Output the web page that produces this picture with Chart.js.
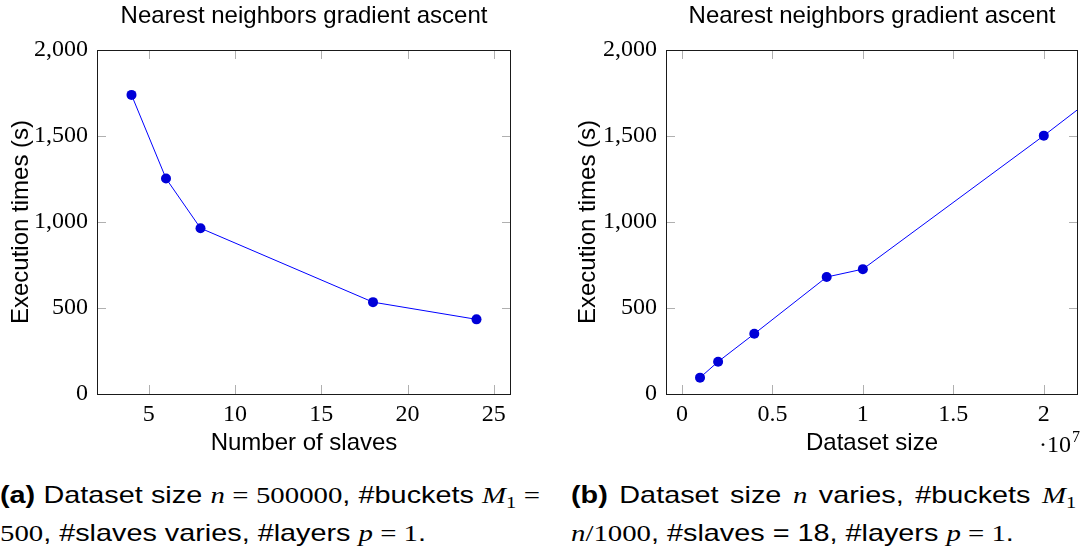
<!DOCTYPE html>
<html>
<head>
<meta charset="utf-8">
<title>Nearest neighbors gradient ascent</title>
<script src="https://cdn.jsdelivr.net/npm/chart.js@4.4.0/dist/chart.umd.min.js"></script>
<style>
  html, body { margin: 0; padding: 0; background: #fff; }
  body { width: 1083px; height: 550px; position: relative; overflow: hidden; }
  canvas { position: absolute; top: 0; }
  #chart-slaves { left: 0; }
  #chart-size { left: 541px; }
  .caption {
    position: absolute;
    top: 476px;
    font: 24px "Liberation Sans", Arial, sans-serif;
    line-height: 37px;
    color: #000;
    transform: scaleX(1.2);
    transform-origin: 0 0;
  }
  .caption .first { text-align: justify; text-align-last: justify; }
  .caption b { font-weight: bold; }
  .m { font-family: "Liberation Serif", "Times New Roman", serif; }
  .m i { font-style: italic; }
  .m sub { font-size: 17px; line-height: 0; vertical-align: baseline; position: relative; top: 5px; font-style: normal; }
</style>
</head>
<body>
<canvas id="chart-slaves" width="541" height="470"></canvas>
<canvas id="chart-size" width="542" height="470"></canvas>

<div class="caption" style="left: 0; width: 450px;">
  <div class="first"><b>(a)</b> Dataset size <span class="m"><i>n</i> = 500000</span>, #buckets <span class="m"><i>M</i><sub>1</sub> =</span></div>
  <div><span class="m">500</span>, #slaves varies, #layers <span class="m"><i>p</i> = 1</span>.</div>
</div>
<div class="caption" style="left: 571px; width: 421px;">
  <div class="first"><b>(b)</b> Dataset size <span class="m"><i>n</i></span> varies, #buckets <span class="m"><i>M</i><sub>1</sub></span></div>
  <div><span class="m"><i>n</i>/1000</span>, #slaves = 18, #layers <span class="m"><i>p</i> = 1</span>.</div>
</div>

<script>
// runs with a fixed dataset size (n = 500000)
const slaveCounts = [4, 6, 8, 18, 24];
const slaveTimes = [1739, 1253, 964, 534, 434];

// runs with 18 slaves; the 4e7 run sits past the right edge of the axis
const datasetSizes = [1e6, 2e6, 4e6, 8e6, 1e7, 2e7, 4e7];
const datasetTimes = [95, 188, 350, 680, 726, 1502, 3120];

const timeTicks = [0, 500, 1000, 1500, 2000];
const slaveTicks = [5, 10, 15, 20, 25];
const sizeTicks = [0, 5e6, 1e7, 1.5e7, 2e7];
const sizeTickLabels = ["0", "0.5", "1", "1.5", "2"];

const SANS = "'Liberation Sans', Arial, sans-serif";
const SERIF = "'Liberation Serif', 'Times New Roman', serif";

// pgfplots style box: black frame with short grey ticks pointing inwards
const frameTicks = {
  id: "frameTicks",
  afterDatasetsDraw(chart) {
    const { ctx, chartArea: a, scales } = chart;
    ctx.save();
    ctx.strokeStyle = "#b0b0b0";
    ctx.lineWidth = 1;
    ctx.beginPath();
    scales.x.ticks.forEach((t) => {
      const px = Math.round(scales.x.getPixelForValue(t.value)) + 0.5;
      ctx.moveTo(px, a.top);
      ctx.lineTo(px, a.top + 9);
      ctx.moveTo(px, a.bottom);
      ctx.lineTo(px, a.bottom - 9);
    });
    scales.y.ticks.forEach((t) => {
      const py = Math.round(scales.y.getPixelForValue(t.value)) + 0.5;
      ctx.moveTo(a.left, py);
      ctx.lineTo(a.left + 9, py);
      ctx.moveTo(a.right, py);
      ctx.lineTo(a.right - 9, py);
    });
    ctx.stroke();
    ctx.strokeStyle = "#1a1a1a";
    ctx.strokeRect(Math.round(a.left) + 0.5, Math.round(a.top) + 0.5,
      Math.round(a.right - a.left) - 1, Math.round(a.bottom - a.top));
    ctx.restore();
  },
};

// "·10^7" multiplier under the right end of the x axis
const sciNote = {
  id: "sciNote",
  afterDraw(chart, args, opts) {
    if (!opts.text) return;
    const { ctx } = chart;
    ctx.save();
    ctx.fillStyle = "#000";
    ctx.textBaseline = "alphabetic";
    ctx.font = "24px " + SERIF;
    ctx.fillText(opts.text, opts.x, opts.y);
    const w = ctx.measureText(opts.text).width;
    ctx.font = "16px " + SERIF;
    ctx.fillText(opts.exp, opts.x + w + 1, opts.y - 10);
    ctx.restore();
  },
};

function makeChart(id, xs, ys, cfg) {
  const points = xs.map((x, i) => ({ x: x, y: ys[i] }));
  return new Chart(document.getElementById(id), {
    type: "line",
    data: {
      datasets: [
        {
          data: points,
          borderColor: "#0000ff",
          borderWidth: 1,
          pointRadius: 5,
          pointBorderWidth: 0,
          pointBackgroundColor: "#0000d8",
          pointBorderColor: "#0000d8",
          tension: 0,
        },
      ],
    },
    options: {
      responsive: false,
      animation: false,
      layout: { padding: { left: 0, right: cfg.padRight, top: 0, bottom: 0 } },
      plugins: {
        legend: { display: false },
        tooltip: { enabled: false },
        title: {
          display: true,
          fullSize: false,
          text: "Nearest neighbors gradient ascent",
          color: "#000",
          font: { family: SANS, size: 24, weight: "normal" },
          padding: { top: 2, bottom: 19.2 },
        },
        sciNote: cfg.sci || {},
      },
      scales: {
        x: {
          type: "linear",
          min: cfg.xMin,
          max: cfg.xMax,
          afterBuildTicks: (s) => {
            s.ticks = cfg.xTicks.map((v) => ({ value: v }));
          },
          afterFit: (s) => {
            s.height = 76;
          },
          grid: { display: false, drawTicks: false },
          border: { display: false },
          ticks: {
            color: "#000",
            font: { family: SERIF, size: 24 },
            padding: 6,
            maxRotation: 0,
            callback: cfg.xLabel,
          },
          title: {
            display: true,
            text: cfg.xTitle,
            color: "#000",
            font: { family: SANS, size: 24 },
            padding: { top: 0, bottom: 12 },
          },
        },
        y: {
          type: "linear",
          min: 0,
          max: 2000,
          afterBuildTicks: (s) => {
            s.ticks = timeTicks.map((v) => ({ value: v }));
          },
          afterFit: (s) => {
            s.width = cfg.yWidth;
          },
          grid: { display: false, drawTicks: false },
          border: { display: false },
          ticks: {
            color: "#000",
            font: { family: SERIF, size: 24 },
            padding: 9,
            callback: (v) => v.toLocaleString("en-US"),
          },
          title: {
            display: true,
            text: "Execution times (s)",
            color: "#000",
            font: { family: SANS, size: 24 },
            padding: { top: cfg.yTitlePad, bottom: 0 },
          },
        },
      },
    },
    plugins: [frameTicks, sciNote],
  });
}

makeChart("chart-slaves", slaveCounts, slaveTimes, {
  xMin: 2,
  xMax: 26,
  xTicks: slaveTicks,
  xLabel: (v) => String(v),
  xTitle: "Number of slaves",
  yWidth: 97,
  yTitlePad: 6.5,
  padRight: 30,
});

makeChart("chart-size", datasetSizes, datasetTimes, {
  xMin: -880000,
  xMax: 21890000,
  xTicks: sizeTicks,
  xLabel: (v, i) => sizeTickLabels[i],
  xTitle: "Dataset size",
  yWidth: 125,
  yTitlePad: 33.3,
  padRight: 3,
  sci: { text: "\u00b710", exp: "7", x: 498, y: 452 },
});
</script>
</body>
</html>
